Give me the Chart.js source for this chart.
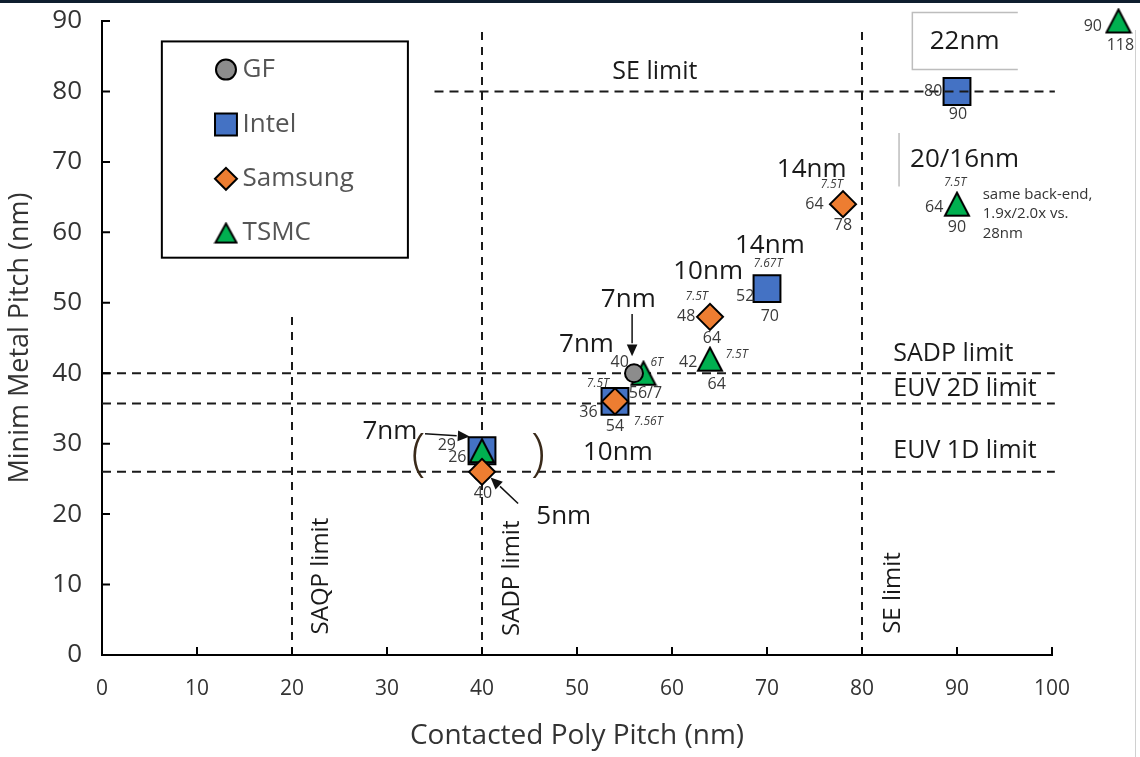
<!DOCTYPE html>
<html>
<head>
<meta charset="utf-8">
<script src="https://cdn.jsdelivr.net/npm/chart.js@4.4.1/dist/chart.umd.min.js"></script>
<style>
  html, body { margin: 0; padding: 0; background: #fff; }
  canvas { display: block; }
</style>
</head>
<body>
<canvas id="pitchChart" width="1140" height="757"></canvas>
<script>
// axis ticks
const xTicks = [0, 10, 20, 30, 40, 50, 60, 70, 80, 90, 100];
const yTicks = [0, 10, 20, 30, 40, 50, 60, 70, 80, 90];

// foundry nodes: x = contacted poly pitch, y = metal pitch (nm)
const companies = ['GF', 'Intel', 'Samsung', 'TSMC'];
const gfNodes = [{x: 56, y: 40}, {x: 40, y: 26}];
const intelNodes = [{x: 90, y: 80}, {x: 70, y: 52}, {x: 54, y: 36}, {x: 40, y: 29}];
const samsungNodes = [{x: 78, y: 64}, {x: 64, y: 48}, {x: 54, y: 36}, {x: 40, y: 26}];
const tsmcNodes = [{x: 107, y: 90}, {x: 90, y: 64}, {x: 64, y: 42}, {x: 57, y: 40}, {x: 40, y: 29}];

// patterning limit lines
const hLimits = [80, 40, 35.7, 26];
const hLimitStart = [35, 0, 0, 0];
const vLimits = [20, 40, 80];
const vLimitTop = [48.5, 88.7, 88.7];

// text notes: [text, x, y, kind, align]
const notes = [
  ['SE limit', 58.2, 82.8, 'limit', 'center'],
  ['SADP limit', 83.3, 42.8, 'limit', 'left'],
  ['EUV 2D limit', 83.3, 37.8, 'limit', 'left'],
  ['EUV 1D limit', 83.3, 29.0, 'limit', 'left'],
  ['SAQP limit', 23.1, 11.2, 'vlimit', 'center'],
  ['SADP limit', 43.2, 10.9, 'vlimit', 'center'],
  ['SE limit', 83.3, 8.8, 'vlimit', 'center'],
  ['22nm', 90.8, 87.1, 'node', 'center'],
  ['20/16nm', 90.8, 70.3, 'node', 'center'],
  ['14nm', 74.7, 68.9, 'node', 'center'],
  ['14nm', 70.3, 58.1, 'node', 'center'],
  ['10nm', 63.8, 54.4, 'node', 'center'],
  ['7nm', 55.4, 50.4, 'node', 'center'],
  ['7nm', 51.0, 44.0, 'node', 'center'],
  ['7nm', 30.3, 31.7, 'node', 'center'],
  ['10nm', 54.3, 28.8, 'node', 'center'],
  ['5nm', 48.6, 19.6, 'node', 'center'],
  ['80', 87.5, 80.0, 'num', 'center'],
  ['90', 90.1, 76.8, 'num', 'center'],
  ['7.5T', 76.8, 66.8, 'track', 'center'],
  ['64', 75.0, 64.0, 'num', 'center'],
  ['78', 78.0, 61.0, 'num', 'center'],
  ['7.67T', 70.1, 55.5, 'track', 'center'],
  ['52', 67.7, 50.9, 'num', 'center'],
  ['70', 70.3, 48.0, 'num', 'center'],
  ['7.5T', 62.6, 50.9, 'track', 'center'],
  ['48', 61.5, 48.0, 'num', 'center'],
  ['64', 64.2, 45.0, 'num', 'center'],
  ['42', 61.7, 41.6, 'num', 'center'],
  ['7.5T', 66.8, 42.6, 'track', 'center'],
  ['64', 64.7, 38.4, 'num', 'center'],
  ['40', 54.5, 41.5, 'num', 'center'],
  ['6T', 58.4, 41.5, 'track', 'center'],
  ['56/7', 57.2, 37.2, 'num', 'center'],
  ['7.5T', 52.2, 38.6, 'track', 'center'],
  ['36', 51.2, 34.4, 'num', 'center'],
  ['54', 54.0, 32.4, 'num', 'center'],
  ['7.56T', 57.5, 33.1, 'track', 'center'],
  ['29', 36.3, 29.8, 'num', 'center'],
  ['26', 37.4, 28.0, 'num', 'center'],
  ['40', 40.1, 23.0, 'num', 'center'],
  ['7.5T', 89.8, 67.0, 'track', 'center'],
  ['64', 87.6, 63.6, 'num', 'center'],
  ['90', 90.0, 60.7, 'num', 'center'],
  ['same back-end,', 92.7, 65.3, 'small', 'left'],
  ['1.9x/2.0x vs.', 92.7, 62.6, 'small', 'left'],
  ['28nm', 92.7, 59.8, 'small', 'left'],
  ['90', 104.3, 89.2, 'num', 'center'],
  ['118', 107.2, 86.5, 'num', 'center'],
  ['(', 33.3, 28.3, 'paren', 'center'],
  [')', 45.9, 28.3, 'paren', 'center']
];

// arrows: [fromX, fromY, toX, toY]
const arrows = [
  [55.8, 48.4, 55.8, 42.4],
  [34.0, 31.4, 38.7, 31.0],
  [43.8, 21.5, 40.9, 25.2]
];

const colors = ['#8c8c8c', '#4472c4', '#ed7d31', '#00b050'];
const noteFonts = {
  node: "26px 'Open Sans'",
  limit: "25px 'Open Sans'",
  vlimit: "24px 'Open Sans'",
  num: "16px 'Open Sans'",
  track: "italic 12px 'Open Sans'",
  small: "15px 'Open Sans'",
  paren: "300 52px 'Open Sans'"
};
const noteColors = {node: '#1a1a1a', limit: '#1a1a1a', vlimit: '#1a1a1a', num: '#3a3a3a',
  track: '#3a3a3a', small: '#333', paren: '#3a2a1a'};

// triangle marker centred on its bounding box, like the spreadsheet original
function makeTriangle(w, h) {
  const c = document.createElement('canvas');
  c.width = w + 4; c.height = h + 4;
  const g = c.getContext('2d');
  g.beginPath();
  g.moveTo(c.width / 2, 2);
  g.lineTo(w + 2, h + 2);
  g.lineTo(2, h + 2);
  g.closePath();
  g.fillStyle = colors[3];
  g.fill();
  g.lineWidth = 2;
  g.strokeStyle = '#000';
  g.stroke();
  return c;
}
const triMarker = makeTriangle(24, 23);
const triLegend = makeTriangle(21, 19);

function dashedLine(ctx, x1, y1, x2, y2, dash) {
  ctx.save();
  ctx.strokeStyle = '#1a1a1a';
  ctx.lineWidth = 2;
  ctx.setLineDash(dash);
  ctx.beginPath();
  ctx.moveTo(x1, y1);
  ctx.lineTo(x2, y2);
  ctx.stroke();
  ctx.restore();
}

const limitsPlugin = {
  id: 'limits',
  beforeDatasetsDraw(chart) {
    const {ctx, scales: {x, y}} = chart;
    hLimits.forEach((v, i) => {
      if (i === 0) return;
      dashedLine(ctx, x.getPixelForValue(hLimitStart[i]), y.getPixelForValue(v),
        x.getPixelForValue(100.3), y.getPixelForValue(v), [9, 6]);
    });
    vLimits.forEach((v, i) => {
      dashedLine(ctx, x.getPixelForValue(v), y.getPixelForValue(0),
        x.getPixelForValue(v), y.getPixelForValue(vLimitTop[i]), [8, 7]);
    });

    // grey box round "22nm" and divider near "20/16nm"
    ctx.save();
    ctx.strokeStyle = '#bdbdbd';
    ctx.lineWidth = 1.5;
    ctx.beginPath();
    ctx.moveTo(x.getPixelForValue(96.4), y.getPixelForValue(91.2));
    ctx.lineTo(x.getPixelForValue(85.3), y.getPixelForValue(91.2));
    ctx.lineTo(x.getPixelForValue(85.3), y.getPixelForValue(83.1));
    ctx.lineTo(x.getPixelForValue(96.4), y.getPixelForValue(83.1));
    ctx.moveTo(x.getPixelForValue(83.9), y.getPixelForValue(74.1));
    ctx.lineTo(x.getPixelForValue(83.9), y.getPixelForValue(66.5));
    ctx.stroke();
    ctx.restore();

    // let the off-axis 28nm marker be drawn past the plot edge
    chart._plotArea = chart.chartArea;
    chart.chartArea = {left: 0, top: 0, right: chart.width, bottom: chart.height,
      width: chart.width, height: chart.height};
  },
  afterDatasetsDraw(chart) {
    if (chart._plotArea) chart.chartArea = chart._plotArea;
    const {ctx, scales: {x, y}} = chart;
    // SE limit line sits over the 22nm marker
    dashedLine(ctx, x.getPixelForValue(hLimitStart[0]), y.getPixelForValue(hLimits[0]),
      x.getPixelForValue(100.3), y.getPixelForValue(hLimits[0]), [9, 6]);

    ctx.save();
    ctx.textBaseline = 'middle';
    notes.forEach(([text, nx, ny, kind, align]) => {
      const px = x.getPixelForValue(nx), py = y.getPixelForValue(ny);
      ctx.font = noteFonts[kind];
      ctx.fillStyle = noteColors[kind];
      ctx.textAlign = align;
      if (kind === 'vlimit') {
        ctx.save();
        ctx.translate(px, py);
        ctx.rotate(-Math.PI / 2);
        ctx.fillText(text, 0, 0);
        ctx.restore();
      } else {
        ctx.fillText(text, px, py);
      }
    });

    arrows.forEach(([x1, y1, x2, y2]) => {
      const a = x.getPixelForValue(x1), b = y.getPixelForValue(y1);
      const c = x.getPixelForValue(x2), d = y.getPixelForValue(y2);
      const ang = Math.atan2(d - b, c - a);
      const head = 13;
      ctx.strokeStyle = '#111';
      ctx.fillStyle = '#111';
      ctx.lineWidth = 1.5;
      ctx.beginPath();
      ctx.moveTo(a, b);
      ctx.lineTo(c - Math.cos(ang) * head, d - Math.sin(ang) * head);
      ctx.stroke();
      ctx.beginPath();
      ctx.moveTo(c, d);
      ctx.lineTo(c - Math.cos(ang - 0.42) * head, d - Math.sin(ang - 0.42) * head);
      ctx.lineTo(c - Math.cos(ang + 0.42) * head, d - Math.sin(ang + 0.42) * head);
      ctx.closePath();
      ctx.fill();
    });
    ctx.restore();
  },
  afterDraw(chart) {
    const {ctx, scales: {x, y}} = chart;
    ctx.save();
    // inward tick marks
    ctx.strokeStyle = '#000';
    ctx.lineWidth = 2;
    ctx.beginPath();
    xTicks.forEach(v => {
      const px = x.getPixelForValue(v);
      ctx.moveTo(px, y.bottom);
      ctx.lineTo(px, y.bottom - 8);
    });
    yTicks.forEach(v => {
      const py = y.getPixelForValue(v);
      ctx.moveTo(x.left, py);
      ctx.lineTo(x.left + 8, py);
    });
    ctx.stroke();

    // legend box
    const l = x.getPixelForValue(6.3), r = x.getPixelForValue(32.2);
    const t = y.getPixelForValue(87.1), b = y.getPixelForValue(56.4);
    ctx.fillStyle = '#fff';
    ctx.fillRect(l, t, r - l, b - t);
    ctx.strokeRect(l, t, r - l, b - t);
    const rows = [83.1, 75.3, 67.6, 59.9];
    const shapes = ['circle', 'rect', 'rectRot', 'triangle'];
    const radii = [10, 15.5, 11, 0];
    companies.forEach((name, i) => {
      const mx = x.getPixelForValue(13.05), my = y.getPixelForValue(rows[i]);
      if (shapes[i] === 'triangle') {
        ctx.drawImage(triLegend, mx - triLegend.width / 2, my - triLegend.height / 2);
      } else {
        ctx.fillStyle = colors[i];
        ctx.strokeStyle = '#000';
        ctx.lineWidth = 2;
        Chart.helpers.drawPoint(ctx, {pointStyle: shapes[i], radius: radii[i], rotation: 0, borderWidth: 2}, mx, my);
      }
      ctx.fillStyle = '#555';
      ctx.font = "26px 'Open Sans'";
      ctx.textAlign = 'left';
      ctx.textBaseline = 'middle';
      ctx.fillText(name, x.getPixelForValue(14.8), my);
    });

    // scan border at the top edge
    ctx.fillStyle = '#0f1e2e';
    ctx.fillRect(0, 0, chart.width, 3);
    ctx.fillStyle = '#d0d0d0';
    ctx.fillRect(chart.width - 5, 30, 1, chart.height - 30);
    ctx.restore();
  }
};

const markerBase = {borderColor: '#000', borderWidth: 2, clip: false, showLine: false};

new Chart(document.getElementById('pitchChart'), {
  type: 'scatter',
  data: {
    datasets: [
      {...markerBase, label: companies[0], data: gfNodes, pointStyle: 'circle', pointRadius: 9,
        backgroundColor: colors[0], order: 1},
      {...markerBase, label: companies[1], data: intelNodes, pointStyle: 'rect', pointRadius: 19,
        backgroundColor: colors[1], order: 3},
      {...markerBase, label: companies[2], data: samsungNodes, pointStyle: 'rectRot', pointRadius: 13,
        backgroundColor: colors[2], order: 0},
      {...markerBase, label: companies[3], data: tsmcNodes, pointStyle: triMarker, pointRadius: 14,
        backgroundColor: colors[3], order: 2}
    ]
  },
  options: {
    responsive: false,
    animation: false,
    events: [],
    layout: {padding: {top: 21, right: 88, bottom: 0, left: 0}},
    plugins: {legend: {display: false}, tooltip: {enabled: false}},
    scales: {
      x: {
        type: 'linear', min: 0, max: 100,
        afterFit(scale) { scale.height = 102; },
        afterBuildTicks(scale) { scale.ticks = xTicks.map(v => ({value: v})); },
        grid: {drawOnChartArea: false, drawTicks: false},
        border: {color: '#000', width: 2},
        ticks: {padding: 21, color: '#333', font: {family: "'Open Sans'", size: 21}},
        title: {display: true, text: 'Contacted Poly Pitch (nm)', color: '#333', padding: {bottom: 4},
          font: {family: "'Open Sans'", size: 28}}
      },
      y: {
        type: 'linear', min: 0, max: 90,
        afterFit(scale) {
          scale.width = 102;
          // tick padding would otherwise push the plot top down
          scale.paddingTop = 0;
          scale.paddingBottom = 0;
        },
        afterBuildTicks(scale) { scale.ticks = yTicks.map(v => ({value: v})); },
        grid: {drawOnChartArea: false, drawTicks: false},
        border: {color: '#000', width: 2},
        ticks: {padding: 20, color: '#333', font: {family: "'Open Sans'", size: 26}},
        title: {display: true, text: 'Minim Metal Pitch (nm)', color: '#333', padding: {top: 4},
          font: {family: "'Open Sans'", size: 27}}
      }
    }
  },
  plugins: [limitsPlugin]
});
</script>
</body>
</html>
